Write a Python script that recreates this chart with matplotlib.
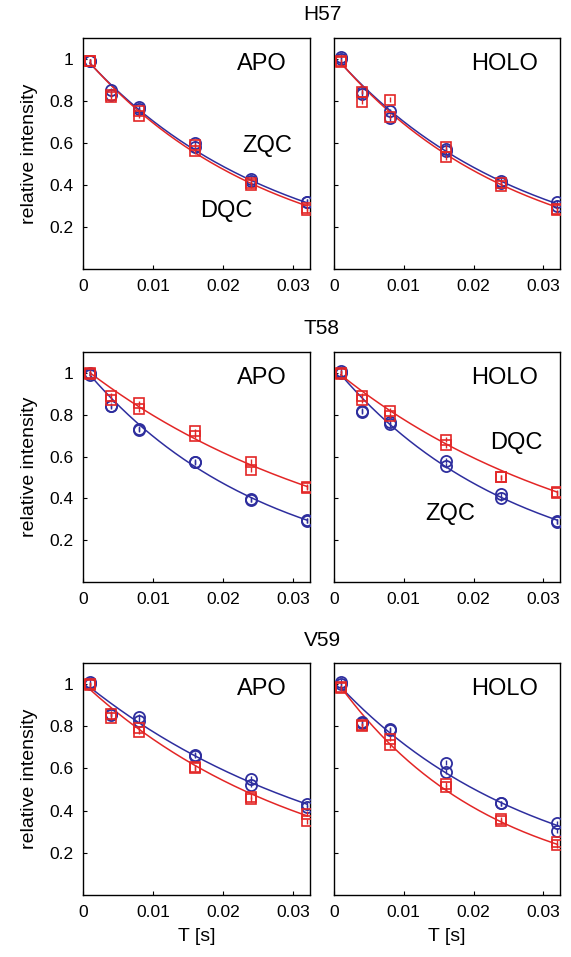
import numpy as np
import matplotlib
matplotlib.use("Agg")
import matplotlib.pyplot as plt

plt.rcParams['font.family'] = ['Liberation Sans', 'DejaVu Sans']

# mixing times (s)
T = [0.001, 0.004, 0.008, 0.016, 0.024, 0.032]

rows = ["H57", "T58", "V59"]
states = ["APO", "HOLO"]

# two replicate measurements per point: ZQC (blue circles), DQC (red squares)
h57_apo_zqc = [[0.99, 0.85, 0.77, 0.60, 0.43, 0.32], [0.99, 0.83, 0.76, 0.58, 0.42, 0.32]]
h57_apo_dqc = [[0.99, 0.83, 0.75, 0.59, 0.41, 0.29], [0.99, 0.82, 0.73, 0.56, 0.40, 0.28]]
h57_holo_zqc = [[1.01, 0.845, 0.75, 0.573, 0.42, 0.317], [1.00, 0.835, 0.717, 0.56, 0.41, 0.30]]
h57_holo_dqc = [[0.99, 0.845, 0.805, 0.58, 0.41, 0.285], [0.985, 0.797, 0.725, 0.533, 0.397, 0.28]]
t58_apo_zqc = [[1.0, 0.843, 0.733, 0.576, 0.395, 0.296], [0.99, 0.84, 0.728, 0.572, 0.393, 0.293]]
t58_apo_dqc = [[1.0, 0.89, 0.855, 0.72, 0.576, 0.456], [0.995, 0.872, 0.827, 0.70, 0.536, 0.45]]
t58_holo_zqc = [[1.01, 0.82, 0.765, 0.58, 0.42, 0.29], [1.0, 0.815, 0.755, 0.555, 0.40, 0.288]]
t58_holo_dqc = [[1.0, 0.89, 0.82, 0.68, 0.50, 0.43], [0.995, 0.87, 0.795, 0.655, 0.50, 0.425]]
v59_apo_zqc = [[1.01, 0.86, 0.845, 0.665, 0.55, 0.43], [1.0, 0.855, 0.827, 0.66, 0.523, 0.415]]
v59_apo_dqc = [[1.0, 0.86, 0.79, 0.605, 0.465, 0.385], [0.995, 0.84, 0.775, 0.60, 0.455, 0.35]]
v59_holo_zqc = [[1.01, 0.82, 0.785, 0.627, 0.435, 0.34], [1.0, 0.815, 0.78, 0.584, 0.435, 0.305]]
v59_holo_dqc = [[0.985, 0.805, 0.74, 0.525, 0.36, 0.25], [0.98, 0.80, 0.71, 0.51, 0.35, 0.235]]

zqc_data = [[h57_apo_zqc, h57_holo_zqc], [t58_apo_zqc, t58_holo_zqc], [v59_apo_zqc, v59_holo_zqc]]
dqc_data = [[h57_apo_dqc, h57_holo_dqc], [t58_apo_dqc, t58_holo_dqc], [v59_apo_dqc, v59_holo_dqc]]

# fitted mono-exponential parameters (amplitude, rate 1/s)
zqc_fit_amp = [[1.016, 1.017], [1.029, 1.030], [1.011, 1.020]]
zqc_fit_rate = [[36.6, 37.1], [39.0, 39.0], [26.7, 35.3]]
dqc_fit_amp = [[1.019, 1.020], [1.026, 1.017], [1.005, 1.031]]
dqc_fit_rate = [[38.2, 38.9], [25.3, 26.9], [30.8, 45.5]]

err = 0.012
blue = '#2e2e9e'
red = '#e32626'

fig = plt.figure(figsize=(5.71, 9.57), dpi=100)
W, H = 571, 957
col_x = [(83, 310), (334, 560)]
row_y = [(38, 269), (352, 582), (663, 895)]
title_y = [15, 329, 640]

# panel annotations: (text, x, y) in data coords
extra_labels = {(0, 0): [("ZQC", 0.0263, 0.584), ("DQC", 0.0204, 0.278)],
                (1, 1): [("DQC", 0.0261, 0.665), ("ZQC", 0.0166, 0.325)]}

tfit = np.linspace(T[0], T[-1], 200)

for r in range(3):
    for c in range(2):
        x0, x1 = col_x[c]
        y0, y1 = row_y[r]
        ax = fig.add_axes([x0 / W, 1 - y1 / H, (x1 - x0) / W, (y1 - y0) / H])
        # fits
        ax.plot(tfit, zqc_fit_amp[r][c] * np.exp(-zqc_fit_rate[r][c] * tfit), color=blue, lw=1.1, zorder=2)
        ax.plot(tfit, dqc_fit_amp[r][c] * np.exp(-dqc_fit_rate[r][c] * tfit), color=red, lw=1.1, zorder=3)
        for rep in zqc_data[r][c]:
            ax.errorbar(T, rep, yerr=err, fmt='o', mfc='none', mec=blue, ecolor=blue,
                        ms=8, mew=1.3, elinewidth=1.0, capsize=0, zorder=4)
        for rep in dqc_data[r][c]:
            ax.errorbar(T, rep, yerr=err, fmt='s', mfc='none', mec=red, ecolor=red,
                        ms=7, mew=1.2, elinewidth=1.0, capsize=0, zorder=5)
        ax.set_xlim(0, 0.0324)
        ax.set_ylim(0, 1.1)
        ax.set_xticks([0, 0.01, 0.02, 0.03])
        ax.set_xticklabels(["0", "0.01", "0.02", "0.03"])
        ax.set_yticks([0.2, 0.4, 0.6, 0.8, 1.0])
        if c == 0:
            ax.set_yticklabels(["0.2", "0.4", "0.6", "0.8", "1"])
            ax.set_ylabel("relative intensity", fontsize=14, labelpad=8)
        else:
            ax.set_yticklabels([])
        if r == 2:
            ax.set_xlabel("T [s]", fontsize=14, labelpad=6)
        ax.tick_params(direction='in', length=3, width=0.8, labelsize=12.5, pad=7)
        for s in ax.spines.values():
            s.set_linewidth(1.0)
        ax.text(0.0255 if c == 0 else 0.0244, 0.975, states[c], fontsize=17,
                ha='center', va='center')
        for (txt, tx, ty) in extra_labels.get((r, c), []):
            ax.text(tx, ty, txt, fontsize=17, ha='center', va='center')
    fig.text(322 / W, 1 - title_y[r] / H, rows[r], fontsize=15, ha='center', va='center')

fig.savefig("out.png", dpi=100)
